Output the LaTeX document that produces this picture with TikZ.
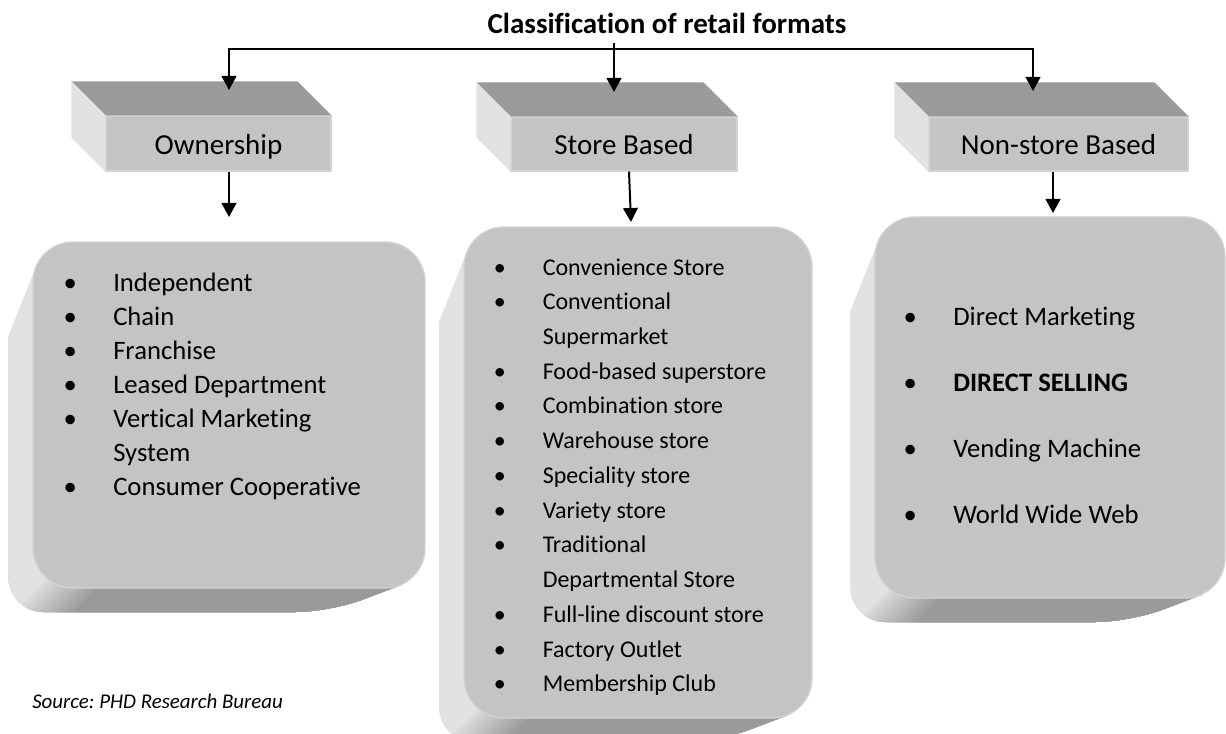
\documentclass[tikz,border=0pt]{standalone}
\usepackage{fontspec}
\setmainfont{Carlito}[Ligatures=NoCommon]
\usepackage{xcolor}
\usetikzlibrary{positioning,fit,calc,arrows.meta}
\definecolor{capGray}{HTML}{C4C4C4}
\definecolor{rimGray}{HTML}{D3D3D3}
\definecolor{topGray}{HTML}{9A9A9A}
\definecolor{sideGray}{HTML}{E2E2E2}
\tikzstyle{headface}=[rectangle, fill=capGray, draw=rimGray, line width=0.8pt, inner sep=0pt]
\tikzstyle{keyface} =[rectangle, rounded corners=30pt, fill=capGray, draw=rimGray, line width=1pt, inner sep=0pt]
\tikzstyle{headtext}=[font=\fontsize{21.75}{26}\selectfont, inner sep=0pt, anchor=base]
\tikzstyle{listtext}=[inner sep=0pt, anchor=base west]
\tikzstyle{flow}    =[line width=1.5pt, -{Triangle[width=11pt,length=10.5pt]}]
\tikzstyle{flowboth}=[line width=1.5pt, {Triangle[width=11pt,length=10.5pt]}-{Triangle[width=11pt,length=10.5pt]}]
\newcommand{\bul}{\makebox[64.5pt]{\textbullet}}
\newcommand{\nobul}{\makebox[64.5pt]{}}
% top and left faces of a bevelled heading
\newcommand{\bevel}[1]{
  \fill[topGray] (#1.north west) -- ++(-34,-34) -- ($(#1.north east)+(-34,-34)$) -- (#1.north east) -- cycle;
  \fill[sideGray] (#1.north west) -- ++(-34,-34) -- ($(#1.south west)+(-34,-34)$) -- (#1.south west) -- cycle;
}
% rounded key with its extruded sides
\newcommand{\keycap}[5]{
  \begin{scope}
    \clip ({#2+4},{#3+22}) -- ({#2-25},{#3+95}) [rounded corners=26pt] -- ({#2-25},{#5+24})
      -- ({#4-95},{#5+24}) [sharp corners] -- ({#4-24},{#5-3}) -- ({#4-30},{#3+30}) -- cycle;
    \fill[sideGray] ({#2-40},{#3}) rectangle ({#4+10},{#5+40});
    \foreach [evaluate=\i as \d using -16+2*\i, evaluate=\i as \c using int(90-6*\i)] \i in {0,...,15}
      \fill[sideGray!\c!topGray] ({#2+25+\d-60},{#5+12+\d+60}) -- ({#2+25+\d+60},{#5+12+\d-60})
        -- ({#4+10},{#5+12+\d-60}) -- ({#4+10},{#5+12+\d+60}) -- cycle;
  \end{scope}
  \node[keyface, fit={(#2,#3) (#4,#5)}] (#1) {};
}

\begin{document}
\frenchspacing
\begin{tikzpicture}[x=0.75pt, y=-0.75pt]
      \useasboundingbox (0,0) rectangle (1226,734);
      \node[anchor=base, inner sep=0pt, font=\fontsize{21.75}{26}\selectfont\bfseries] (title) at (667,34) {Classification of retail formats};
      % headings
      \node[headface, fit={(106,116) (331,171)}] (ownhead) {};
      \bevel{ownhead}
      \node[headtext] (ownlabel) at (218.5,155) {Ownership};
      \node[headface, fit={(511,117) (737,171)}] (storehead) {};
      \bevel{storehead}
      \node[headtext] (storelabel) at (624,155) {Store Based};
      \node[headface, fit={(929,117) (1188,171)}] (nonhead) {};
      \bevel{nonhead}
      \node[headtext] (nonlabel) at (1058.5,155) {Non-store Based};
      % keys
      \keycap{ownbox}{33}{242}{425}{588}
      \keycap{storebox}{464}{227}{812}{718}
      \keycap{nonbox}{875}{217}{1225}{598}
      \node[listtext, font=\fontsize{20}{25.5}\selectfont] (ownlist) at (27,291) {\begin{tabular}[t]{@{}l@{}}
        \bul Independent\\ \bul Chain\\ \bul Franchise\\ \bul Leased Department\\
        \bul Vertical Marketing\\ \nobul System\\ \bul Consumer Cooperative\end{tabular}};
      \node[listtext, font=\fontsize{18}{26.06}\selectfont] (storelist) at (456.5,275) {\begin{tabular}[t]{@{}l@{}}
        \bul Convenience Store\\ \bul Conventional\\ \nobul Supermarket\\ \bul Food-based superstore\\
        \bul Combination store\\ \bul Warehouse store\\ \bul Speciality store\\ \bul Variety store\\
        \bul Traditional\\ \nobul Departmental Store\\ \bul Full-line discount store\\
        \bul Factory Outlet\\ \bul Membership Club\end{tabular}};
      \node[listtext, font=\fontsize{20}{49.5}\selectfont] (nonlist) at (867,325) {\begin{tabular}[t]{@{}l@{}}
        \bul Direct Marketing\\ \bul \textbf{DIRECT SELLING}\\ \bul Vending Machine\\ \bul World Wide Web\end{tabular}};
      \node[listtext, font=\fontsize{15.7}{19}\selectfont\itshape] (source) at (32,708) {Source: PHD Research Bureau};
      % connectors
      \coordinate (spine) at (614,43);
      \coordinate (barL) at (229,49);
      \coordinate (barR) at (1033,49);
      \coordinate (owntip) at (229,90);
      \coordinate (storetip) at (614,92);
      \coordinate (nontip) at (1033,91);
      \coordinate (ownlow) at (229,217);
      \coordinate (storelow) at (631,222);
      \coordinate (nonlow) at (1053,213);
      \draw[flowboth] (owntip) -- (barL) -- (barR) -- (nontip);
      \draw[flow] (spine) -- (storetip);
      \draw[flow] (ownhead.south -| ownlow) -- (ownlow);
      \draw[flow] ($(storehead.south)+(5,0)$) -- (storelow);
      \draw[flow] (nonhead.south -| nonlow) -- (nonlow);
    \end{tikzpicture}
\end{document}
